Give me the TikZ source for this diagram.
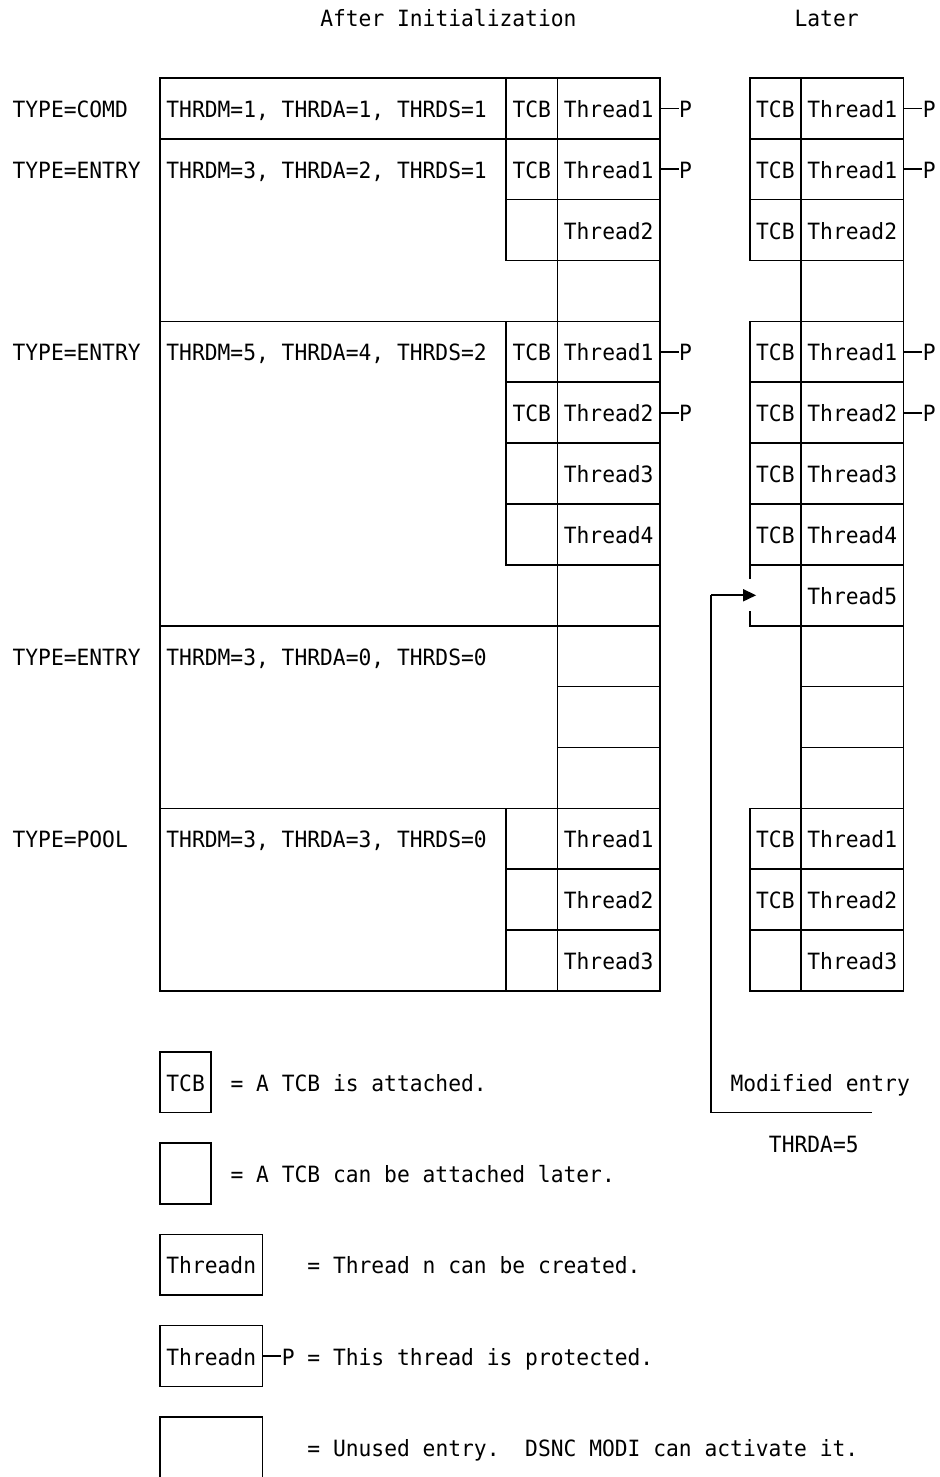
\documentclass[tikz,border=0pt]{standalone}
\usepackage{fontspec}
\newfontfamily\mono[FakeStretch=0.95]{DejaVu Sans Mono}
\usetikzlibrary{arrows.meta}
\begin{document}
\frenchspacing
\begin{tikzpicture}[x=12.82pt,y=-30.43pt,
  ln/.style={line width=1.6pt,line cap=rect},
  arr/.style={line width=1.6pt,-{Triangle[length=13pt,width=12pt]}},
  tx/.style={anchor=base west,inner sep=0pt,outer sep=0pt,font=\mono\fontsize{22.4pt}{22.4pt}\selectfont,yshift=-9pt}]
\path[fill=white,use as bounding box] (-0.4805,-0.562) rectangle (72.84,47.975);

% titles
\node[tx] (title1) at (24.5,0) {After Initialization};
\node[tx] (title2) at (61.5,0) {Later};

% left labels
\node[tx] (lab1) at (0.5,3) {TYPE=COMD};
\node[tx] (lab2) at (0.5,5) {TYPE=ENTRY};
\node[tx] (lab3) at (0.5,11) {TYPE=ENTRY};
\node[tx] (lab4) at (0.5,21) {TYPE=ENTRY};
\node[tx] (lab5) at (0.5,27) {TYPE=POOL};

% parameters
\node[tx] (par1) at (12.5,3) {THRDM=1,\ THRDA=1,\ THRDS=1};
\node[tx] (par2) at (12.5,5) {THRDM=3,\ THRDA=2,\ THRDS=1};
\node[tx] (par3) at (12.5,11) {THRDM=5,\ THRDA=4,\ THRDS=2};
\node[tx] (par4) at (12.5,21) {THRDM=3,\ THRDA=0,\ THRDS=0};
\node[tx] (par5) at (12.5,27) {THRDM=3,\ THRDA=3,\ THRDS=0};

% ---------- After Initialization: grid ----------
\draw[ln] (12,2) -- (51,2) -- (51,32) -- (12,32) -- cycle;
\draw[ln] (43,2) -- (43,32);
\draw[ln] (12,4) -- (51,4);
\draw[ln] (39,2) -- (39,8) -- (51,8);
\draw[ln] (39,6) -- (51,6);
\draw[ln] (12,10) -- (51,10);
\draw[ln] (39,10) -- (39,18) -- (51,18);
\draw[ln] (39,12) -- (51,12);
\draw[ln] (39,14) -- (51,14);
\draw[ln] (39,16) -- (51,16);
\draw[ln] (12,20) -- (51,20);
\draw[ln] (43,22) -- (51,22);
\draw[ln] (43,24) -- (51,24);
\draw[ln] (12,26) -- (51,26);
\draw[ln] (39,26) -- (39,32);
\draw[ln] (39,28) -- (51,28);
\draw[ln] (39,30) -- (51,30);

% left texts
\node[tx] (la1) at (39.5,3) {TCB};
\node[tx] (lt1) at (43.5,3) {Thread1};
\node[tx] (lp1) at (52.5,3) {P};
\draw[ln] (51,3) -- (52.4,3);
\node[tx] (la2) at (39.5,5) {TCB};
\node[tx] (lt2) at (43.5,5) {Thread1};
\node[tx] (lp2) at (52.5,5) {P};
\draw[ln] (51,5) -- (52.4,5);
\node[tx] (lt3) at (43.5,7) {Thread2};
\node[tx] (la4) at (39.5,11) {TCB};
\node[tx] (lt4) at (43.5,11) {Thread1};
\node[tx] (lp4) at (52.5,11) {P};
\draw[ln] (51,11) -- (52.4,11);
\node[tx] (la5) at (39.5,13) {TCB};
\node[tx] (lt5) at (43.5,13) {Thread2};
\node[tx] (lp5) at (52.5,13) {P};
\draw[ln] (51,13) -- (52.4,13);
\node[tx] (lt6) at (43.5,15) {Thread3};
\node[tx] (lt7) at (43.5,17) {Thread4};
\node[tx] (lt8) at (43.5,27) {Thread1};
\node[tx] (lt9) at (43.5,29) {Thread2};
\node[tx] (lt10) at (43.5,31) {Thread3};

% ---------- Later: grid ----------
\draw[ln] (62,2) -- (62,32);
\draw[ln] (70,2) -- (70,32);
\draw[ln] (58,8) -- (58,2) -- (70,2);
\draw[ln] (58,4) -- (70,4);
\draw[ln] (58,6) -- (70,6);
\draw[ln] (58,8) -- (70,8);
\draw[ln] (58,18.45) -- (58,10) -- (70,10);
\draw[ln] (58,19.55) -- (58,20) -- (70,20);
\draw[ln] (58,12) -- (70,12);
\draw[ln] (58,14) -- (70,14);
\draw[ln] (58,16) -- (70,16);
\draw[ln] (58,18) -- (70,18);
\draw[ln] (62,22) -- (70,22);
\draw[ln] (62,24) -- (70,24);
\draw[ln] (58,26) -- (70,26);
\draw[ln] (58,26) -- (58,32) -- (70,32);
\draw[ln] (58,28) -- (70,28);
\draw[ln] (58,30) -- (70,30);

% right texts
\node[tx] (ra1) at (58.5,3) {TCB};
\node[tx] (rt1) at (62.5,3) {Thread1};
\node[tx] (rp1) at (71.5,3) {P};
\draw[ln] (70,3) -- (71.4,3);
\node[tx] (ra2) at (58.5,5) {TCB};
\node[tx] (rt2) at (62.5,5) {Thread1};
\node[tx] (rp2) at (71.5,5) {P};
\draw[ln] (70,5) -- (71.4,5);
\node[tx] (ra3) at (58.5,7) {TCB};
\node[tx] (rt3) at (62.5,7) {Thread2};
\node[tx] (ra4) at (58.5,11) {TCB};
\node[tx] (rt4) at (62.5,11) {Thread1};
\node[tx] (rp4) at (71.5,11) {P};
\draw[ln] (70,11) -- (71.4,11);
\node[tx] (ra5) at (58.5,13) {TCB};
\node[tx] (rt5) at (62.5,13) {Thread2};
\node[tx] (rp5) at (71.5,13) {P};
\draw[ln] (70,13) -- (71.4,13);
\node[tx] (ra6) at (58.5,15) {TCB};
\node[tx] (rt6) at (62.5,15) {Thread3};
\node[tx] (ra7) at (58.5,17) {TCB};
\node[tx] (rt7) at (62.5,17) {Thread4};
\node[tx] (rt8) at (62.5,19) {Thread5};
\node[tx] (ra9) at (58.5,27) {TCB};
\node[tx] (rt9) at (62.5,27) {Thread1};
\node[tx] (ra10) at (58.5,29) {TCB};
\node[tx] (rt10) at (62.5,29) {Thread2};
\node[tx] (rt11) at (62.5,31) {Thread3};

% modified entry bracket and arrow
\coordinate (brkend) at (67.5,36);
\coordinate (brk) at (55,36);
\coordinate (turn) at (55,19);
\coordinate (tip) at (58.5,19);
\draw[line width=1.6pt,line join=miter] (brkend) -- (brk) -- (turn);
\draw[arr] (turn) -- (tip);
\node[tx] (mod) at (56.5,35) {Modified entry};
\node[tx] (thrda) at (59.5,37) {THRDA=5};

% ---------- legend ----------
\draw[ln] (12,34) rectangle (16,36);
\node[tx] (gtcb) at (12.5,35) {TCB};
\node[tx] (g1) at (17.5,35) {=\ A TCB is attached.};
\draw[ln] (12,37) rectangle (16,39);
\node[tx] (g2) at (17.5,38) {=\ A TCB can be attached later.};
\draw[ln] (12,40) rectangle (20,42);
\node[tx] (gthr1) at (12.5,41) {Threadn};
\node[tx] (g3) at (23.5,41) {=\ Thread n can be created.};
\draw[ln] (12,43) rectangle (20,45);
\node[tx] (gthr2) at (12.5,44) {Threadn};
\draw[ln] (20,44) -- (21.4,44);
\node[tx] (g4) at (21.5,44) {P = This thread is protected.};
\draw[ln] (12,48.5) -- (12,46) -- (20,46) -- (20,48.5);
\node[tx] (g5) at (23.5,47) {=\ Unused entry.\ \ DSNC MODI can activate it.};
\end{tikzpicture}
\end{document}
